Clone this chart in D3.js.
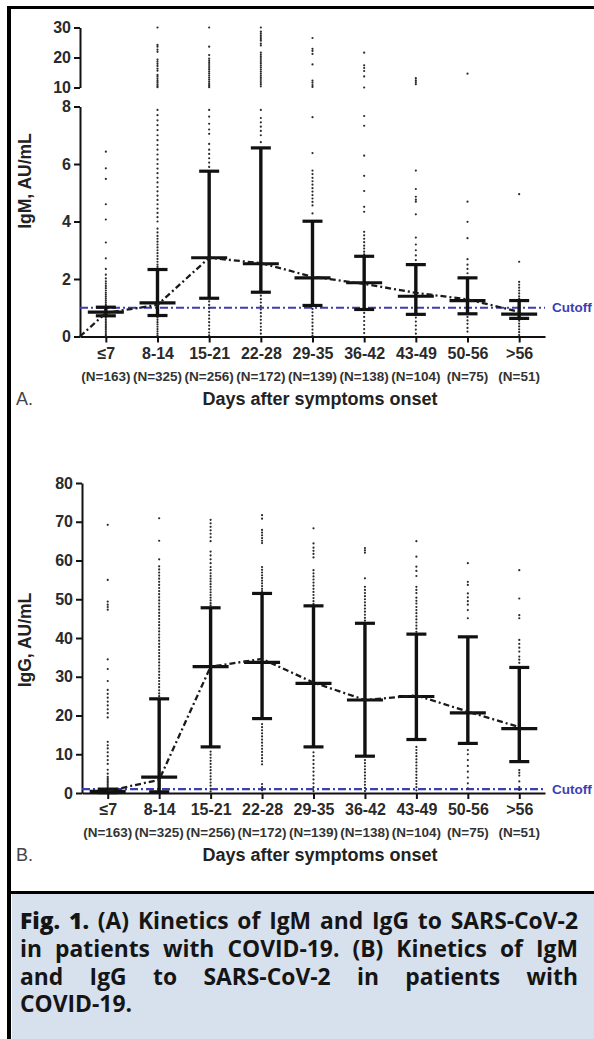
<!DOCTYPE html>
<html lang="en">
<head>
<meta charset="UTF-8">
<title>IgM / IgG kinetics - D3.js</title>
<script src="https://d3js.org/d3.v7.min.js"></script>
<style>
  body { margin: 0; background: #fff; }
  #page { position: relative; width: 594px; height: 1039px; overflow: hidden; }
  #page svg { position: absolute; left: 0; top: 0; }
  .tick text { font-family: "Liberation Sans", Arial, sans-serif; font-weight: bold; font-size: 16px; fill: #2a2a2a; }
  .tick line, .domain { stroke: #111; stroke-width: 2; }
  #caption {
    position: absolute; left: 12px; top: 894px; width: 582px; height: 145px;
    background: #d7e0ed;
  }
  .cap-line {
    position: absolute; left: 8px; width: 558px;
    font-family: "Open Sans", "Noto Sans", sans-serif; font-weight: 700; font-size: 18px;
    color: #151515; white-space: nowrap; line-height: 26px;
  }
  .cap-line.just { text-align: justify; text-align-last: justify; }
</style>
</head>
<body>
<div id="page"></div>
<script>
// categories and labels
const categories = ["≤7", "8-14", "15-21", "22-28", "29-35", "36-42", "43-49", "50-56", ">56"];
const sampleSizes = ["(N=163)", "(N=325)", "(N=256)", "(N=172)", "(N=139)", "(N=138)", "(N=104)", "(N=75)", "(N=51)"];

// IgM (panel A) - median and interquartile range
const igmMedian = [0.85, 1.17, 2.74, 2.53, 2.04, 1.87, 1.40, 1.25, 0.78];
const igmQ1 = [0.72, 0.73, 1.33, 1.54, 1.08, 0.94, 0.77, 0.79, 0.63];
const igmQ3 = [1.02, 2.33, 5.75, 6.56, 4.01, 2.79, 2.50, 2.04, 1.25];
const igmTrendStart = 0;
const igmTrend = [0.82, 1.10, 2.74, 2.55, 2.08, 1.83, 1.52, 1.29, 0.86];
const igmLowTicks = [0, 2, 4, 6, 8];
const igmHighTicks = [10, 20, 30];
const igmPoints = [
  [6.43, 5.85, 5.48, 4.6, 4.07, 3.27, 2.72, 2.35, 2.15, 2.02, 1.92, 1.84, 1.76, 1.68, 1.6, 1.52, 1.45, 1.38, 1.31, 1.24, 1.17, 1.1, 1.05, 0.66, 0.6, 0.54, 0.48, 0.42, 0.36, 0.3, 0.24, 0.18, 0.12, 0.06, 0.02],
  [30.0, 24.2, 23.6, 22.6, 21.9, 19.3, 18.6, 17.9, 17.2, 16.3, 15.6, 14.2, 13.6, 12.9, 12.2, 11.6, 11.0, 10.5, 10.1,
   7.88, 7.7, 7.52, 7.35, 7.18, 7.0, 6.83, 6.66, 6.5, 6.33, 6.16, 6.0, 5.84, 5.68, 5.52, 5.36, 5.2, 5.05, 4.9, 4.75, 4.6, 4.45, 4.3, 4.15, 4.0,
   3.75, 3.62, 3.5, 3.4, 3.3, 3.2, 3.1, 3.0, 2.9, 2.8, 2.7, 2.6, 2.5, 2.42, 0.66, 0.58, 0.5, 0.42, 0.34, 0.26, 0.18, 0.1, 0.03],
  [30.0, 23.6, 20.8, 19.6, 18.9, 18.2, 17.5, 16.8, 16.1, 15.4, 14.7, 14.0, 13.3, 12.6, 11.9, 11.2, 10.6, 10.1,
   7.88, 7.65, 7.4, 7.2, 7.05, 6.7, 6.5, 6.35, 6.2, 6.05, 5.9, 1.22, 1.1, 0.98, 0.86, 0.74, 0.62, 0.5, 0.38, 0.26, 0.14, 0.04],
  [30.0, 28.6, 28.0, 27.4, 26.8, 26.2, 25.6, 24.6, 24.0, 21.6, 20.9, 20.2, 19.5, 18.8, 18.1, 17.4, 16.7, 16.0, 15.3, 14.6, 13.9, 13.2, 12.5, 11.8, 11.1, 10.4,
   7.88, 7.6, 7.45, 7.3, 7.15, 7.0, 6.76, 1.42, 1.3, 1.18, 1.06, 0.94, 0.82, 0.7, 0.58, 0.46, 0.34, 0.22, 0.1],
  [26.5, 22.9, 22.2, 21.2, 17.7, 12.3, 11.6, 10.8, 10.2, 7.63, 6.38, 5.77, 5.65, 5.52, 5.4, 5.28, 5.16, 5.04, 4.92, 4.8, 4.68, 4.56, 4.28,
   0.96, 0.84, 0.72, 0.6, 0.48, 0.36, 0.24, 0.12, 0.03],
  [21.6, 17.4, 16.5, 15.5, 13.7, 10.0, 7.67, 7.33, 6.29, 5.59, 5.06, 4.51, 4.34, 3.64, 3.52, 3.4, 3.28, 3.16, 3.06, 2.95, 2.86,
   0.82, 0.68, 0.54, 0.4, 0.26, 0.12],
  [13.1, 12.4, 11.8, 11.1, 5.77, 5.13, 4.86, 4.76, 4.69, 4.25, 3.44, 3.2, 3.0, 2.82, 2.66, 0.66, 0.52, 0.38, 0.24, 0.1],
  [14.6, 4.69, 3.99, 3.42, 2.69, 2.5, 2.35, 2.2, 0.68, 0.56, 0.44, 0.3, 0.17],
  [4.95, 2.6, 1.9, 1.8, 1.7, 1.6, 1.5, 1.4, 1.32, 0.55, 0.45, 0.35, 0.25, 0.15, 0.05]
];

// IgG (panel B)
const iggMedian = [0.4, 4.1, 32.6, 33.7, 28.3, 24.0, 24.9, 20.7, 16.6];
const iggQ1 = [0.1, 0.3, 11.9, 19.2, 11.9, 9.5, 13.8, 12.8, 8.1];
const iggQ3 = [1.0, 24.3, 47.8, 51.5, 48.3, 43.8, 41.0, 40.3, 32.4];
const iggTrend = [0.5, 3.4, 32.6, 34.6, 28.5, 24.0, 25.2, 21.0, 17.0];
const iggTicks = [0, 10, 20, 30, 40, 50, 60, 70, 80];
const iggPoints = [
  [69.2, 55.0, 49.4, 48.6, 48.0, 47.3, 34.5, 32.0, 28.9, 26.6, 25.6, 24.6, 23.6, 22.6, 21.6, 20.6, 19.5, 13.2, 12.3, 11.5, 10.5, 9.5, 8.5, 7.5,
   6.0, 5.0, 4.2, 3.8, 3.4, 3.0, 2.6, 2.2, 1.8, 1.4],
  [70.9, 65.1, 60.3, 58.5, 57.7, 56.9, 56.1, 55.3, 54.5, 53.7, 52.9, 52.1, 51.3, 50.5, 49.7, 48.9, 48.1, 47.3, 46.5, 45.7, 44.9, 44.1, 43.3,
   42.5, 41.7, 40.9, 40.1, 39.3, 38.5, 37.7, 36.9, 36.1, 35.3, 34.5, 33.7, 32.9, 32.1, 31.3, 30.5, 29.7, 28.9, 28.1, 27.3, 26.5, 25.7, 25.0],
  [70.5, 69.6, 68.7, 67.8, 66.9, 66.0, 65.0, 62.3, 61.3, 60.3, 59.3, 58.3, 57.5, 56.7, 56.0, 55.3, 54.6, 53.9, 53.2, 52.5, 51.8, 51.1, 50.4,
   49.7, 49.0, 48.4, 10.7, 9.9, 9.1, 8.3, 7.5, 6.7, 5.9, 5.1, 4.3, 3.5, 2.7, 1.9, 1.1, 0.4],
  [71.7, 70.8, 67.9, 67.2, 66.5, 65.8, 65.1, 64.5, 58.3, 57.6, 56.9, 56.2, 55.5, 54.8, 54.1, 53.4, 52.7, 52.1, 17.8, 17.0, 16.2, 15.4, 14.6,
   13.8, 13.0, 12.2, 11.4, 10.6, 9.8, 9.0, 8.2, 7.4, 2.3, 1.5, 0.7],
  [68.3, 64.4, 63.3, 62.5, 61.7, 60.8, 57.5, 56.7, 55.9, 55.1, 54.3, 53.5, 52.7, 51.9, 51.1, 50.3, 49.5, 48.8, 10.5, 9.5, 8.5, 7.5, 6.5, 5.5,
   4.5, 3.5, 2.5, 1.5, 0.5],
  [63.2, 62.6, 62.0, 55.4, 53.2, 52.4, 51.6, 50.8, 50.0, 49.2, 48.4, 47.6, 46.8, 46.0, 45.2, 44.5, 8.5, 7.7, 6.9, 6.1, 5.3, 4.5, 3.7, 2.9,
   2.1, 1.3, 0.5],
  [65.0, 61.0, 58.4, 57.3, 56.0, 53.2, 52.4, 51.6, 50.4, 49.6, 48.9, 48.0, 47.2, 46.4, 45.6, 44.8, 44.0, 43.2, 42.4, 41.6, 11.9, 11.1, 10.3,
   9.5, 8.7, 7.9, 7.1, 6.3, 5.5, 4.7, 3.9, 3.1, 2.3, 1.5, 0.7],
  [59.3, 54.5, 53.7, 51.5, 50.5, 49.5, 48.6, 47.2, 45.1, 11.1, 10.0, 8.5, 7.0, 5.5, 4.0, 2.5, 1.2],
  [57.5, 50.2, 45.9, 45.1, 39.5, 38.5, 37.5, 36.5, 35.2, 34.4, 33.6, 5.9, 5.2, 4.5, 3.0, 1.5, 0.8]
];
const cutoff = 1;

const width = 594, height = 1039;
const fontSans = '"Liberation Sans", Arial, sans-serif';
const blue = "#3d3db5";

const page = d3.select("#page");
const svg = page.append("svg").attr("width", width).attr("height", height);

// frame
svg.append("rect").attr("x", 7).attr("y", 6).attr("width", 4).attr("height", height - 6).attr("fill", "#000");
svg.append("rect").attr("x", 7).attr("y", 6).attr("width", width - 7).attr("height", 3).attr("fill", "#000");

function drawPanel(g, o) {
  const x = d3.scalePoint().domain(categories).range(o.xRange).padding(0.5);

  // y axes
  o.yAxes.forEach(a => {
    g.append("g")
      .attr("transform", `translate(${o.xRange[0]},0)`)
      .call(d3.axisLeft(a.scale).tickValues(a.ticks).tickSize(6).tickSizeOuter(0).tickPadding(3));
  });

  // x axis
  g.append("g")
    .attr("transform", `translate(0,${o.yZero})`)
    .call(d3.axisBottom(x).tickSize(6).tickSizeOuter(0).tickPadding(5));

  // sample sizes
  g.selectAll(".nlab").data(sampleSizes).enter().append("text")
    .attr("x", (d, i) => x(categories[i]))
    .attr("y", o.yZero + 44)
    .attr("text-anchor", "middle")
    .attr("font-family", fontSans).attr("font-weight", "bold").attr("font-size", 13.5)
    .attr("fill", "#333")
    .text(d => d);

  g.append("text")
    .attr("x", 320).attr("y", o.yZero + 68)
    .attr("text-anchor", "middle")
    .attr("font-family", fontSans).attr("font-weight", "bold").attr("font-size", 18)
    .attr("fill", "#222")
    .text("Days after symptoms onset");

  g.append("text")
    .attr("x", 16).attr("y", o.yZero + 68)
    .attr("font-family", fontSans).attr("font-size", 18)
    .attr("fill", "#444")
    .text(o.letter);

  g.append("text")
    .attr("transform", `translate(31,${o.yLabelCenter}) rotate(-90)`)
    .attr("text-anchor", "middle")
    .attr("font-family", fontSans).attr("font-weight", "bold").attr("font-size", 17.5)
    .attr("fill", "#222")
    .text(o.yLabel);

  // cutoff
  g.append("line")
    .attr("x1", o.xRange[0]).attr("x2", o.xRange[1])
    .attr("y1", o.y(cutoff)).attr("y2", o.y(cutoff))
    .attr("stroke", blue).attr("stroke-width", 2.2)
    .attr("stroke-dasharray", "8,3,2,3");
  g.append("text")
    .attr("x", o.xRange[1] + 7).attr("y", o.y(cutoff) + 4.5)
    .attr("font-family", fontSans).attr("font-weight", "bold").attr("font-size", 13.5)
    .attr("fill", blue)
    .text("Cutoff");

  // scatter of individual values
  const pts = [];
  o.points.forEach((vals, i) => vals.forEach(v => pts.push({ c: categories[i], v })));
  g.selectAll(".pt").data(pts).enter().append("circle")
    .attr("cx", d => x(d.c)).attr("cy", d => o.y(d.v))
    .attr("r", 1.1).attr("fill", "#2a2a2a");

  // whiskers (IQR)
  const stats = categories.map((c, i) => ({ c, med: o.median[i], q1: o.q1[i], q3: o.q3[i] }));
  g.selectAll(".wh").data(stats).enter().append("line")
    .attr("x1", d => x(d.c)).attr("x2", d => x(d.c))
    .attr("y1", d => o.y(d.q1)).attr("y2", d => o.y(d.q3))
    .attr("stroke", "#111").attr("stroke-width", 3.4);
  ["q1", "q3"].forEach(k => {
    g.selectAll(".cap-" + k).data(stats).enter().append("line")
      .attr("x1", d => x(d.c) - 10).attr("x2", d => x(d.c) + 10)
      .attr("y1", d => o.y(d[k])).attr("y2", d => o.y(d[k]))
      .attr("stroke", "#111").attr("stroke-width", 3.2);
  });
  g.selectAll(".med").data(stats).enter().append("line")
    .attr("x1", d => x(d.c) - 18).attr("x2", d => x(d.c) + 18)
    .attr("y1", d => o.y(d.med)).attr("y2", d => o.y(d.med))
    .attr("stroke", "#111").attr("stroke-width", 3.2);

  // trend line
  const tp = categories.map((c, i) => [x(c), o.y(o.trend[i])]);
  if (o.trendStart !== undefined) tp.unshift([o.xRange[0], o.y(o.trendStart)]);
  g.append("path")
    .attr("d", d3.line()(tp))
    .attr("fill", "none").attr("stroke", "#1a1a1a").attr("stroke-width", 2.3)
    .attr("stroke-dasharray", "6,3,2,3");
}

// panel A: broken y axis
const yLow = d3.scaleLinear().domain([0, 8]).range([336.5, 106.5]);
const yHigh = d3.scaleLinear().domain([10, 30]).range([87.5, 27.5]);
drawPanel(svg.append("g"), {
  xRange: [80, 545],
  yZero: yLow(0),
  y: v => (v > 9 ? yHigh(v) : yLow(v)),
  yAxes: [{ scale: yLow, ticks: igmLowTicks }, { scale: yHigh, ticks: igmHighTicks }],
  median: igmMedian, q1: igmQ1, q3: igmQ3,
  trend: igmTrend, trendStart: igmTrendStart,
  points: igmPoints,
  letter: "A.", yLabel: "IgM, AU/mL", yLabelCenter: 181
});

// panel B
const yG = d3.scaleLinear().domain([0, 80]).range([793, 483]);
drawPanel(svg.append("g"), {
  xRange: [82, 545],
  yZero: yG(0),
  y: yG,
  yAxes: [{ scale: yG, ticks: iggTicks }],
  median: iggMedian, q1: iggQ1, q3: iggQ3,
  trend: iggTrend,
  points: iggPoints,
  letter: "B.", yLabel: "IgG, AU/mL", yLabelCenter: 640
});

// caption
svg.append("rect").attr("x", 7).attr("y", 891).attr("width", width - 7).attr("height", 3).attr("fill", "#000");
const cap = page.append("div").attr("id", "caption");
const capLines = [
  "<b>Fig. 1.</b> (A) Kinetics of IgM and IgG to SARS-CoV-2",
  "in patients with COVID-19. (B) Kinetics of IgM",
  "and IgG to SARS-CoV-2 in patients with",
  "COVID-19."
];
const lineDivs = capLines.map((t, i) =>
  cap.append("div")
    .attr("class", "cap-line")
    .style("top", (14 + i * 27.8) + "px")
    .html(`<span>${t}</span>`)
);
// size the font so that the first line almost fills the box width (measured before justifying)
const probe = lineDivs[0].select("span").node().getBoundingClientRect().width;
const capSize = 18 * 532 / probe;
lineDivs.forEach((d, i) => {
  d.style("font-size", capSize + "px");
  if (i < capLines.length - 1) d.classed("just", true);
});
</script>
</body>
</html>
